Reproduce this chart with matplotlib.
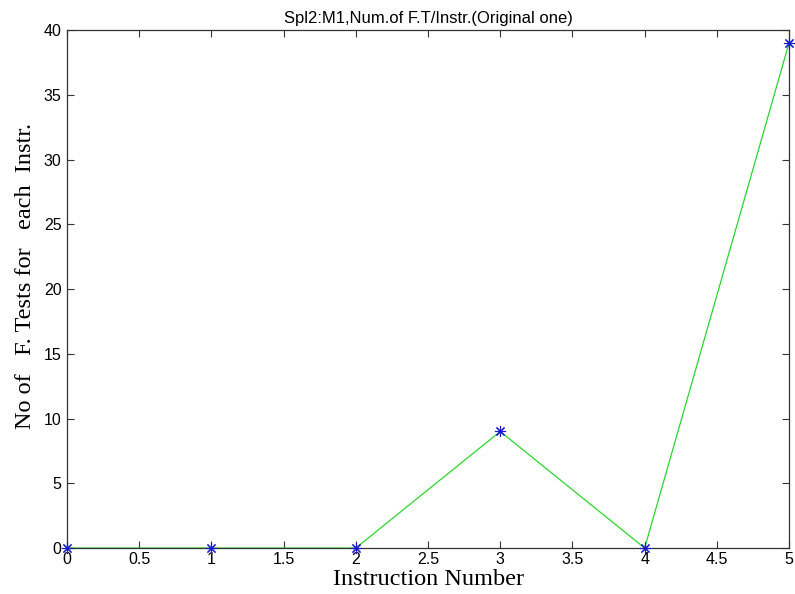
import matplotlib.pyplot as plt

# instruction index vs number of fault tests
instr = [0, 1, 2, 3, 4, 5]
n_tests = [0, 0, 0, 9, 0, 39]
xtick_vals = [0, 0.5, 1, 1.5, 2, 2.5, 3, 3.5, 4, 4.5, 5]
xtick_text = ['0', '0.5', '1', '1.5', '2', '2.5', '3', '3.5', '4', '4.5', '5']

fig = plt.figure(figsize=(7.95, 5.94), dpi=100)
ax = fig.add_axes([0.0843, 0.0774, 0.9082, 0.8721])

ax.plot(instr, n_tests, color='#2ad62a', lw=0.9, zorder=2)
ax.plot(instr, n_tests, ls='none', marker=(8, 2, 0), color='#1a1acc', ms=8,
        mew=0.8, zorder=3, clip_on=False)

ax.set_xlim(0, 5)
ax.set_ylim(0, 40)
ax.set_xticks(xtick_vals)
ax.set_xticklabels(xtick_text)
ax.set_yticks(range(0, 41, 5))

ax.tick_params(direction='in', length=5, width=0.8, top=True, right=True,
               labelsize=11.5, pad=3, colors='#333333')
ax.tick_params(axis='y', pad=4)
for lbl in ax.get_xticklabels() + ax.get_yticklabels():
    lbl.set_fontfamily('Liberation Sans')
    lbl.set_color('black')
for s in ax.spines.values():
    s.set_linewidth(0.9)
    s.set_color('#333333')

ax.set_title('Spl2:M1,Num.of F.T/Instr.(Original one)', fontsize=12,
             family='Liberation Sans', pad=5)
ax.set_xlabel('Instruction Number', family='Liberation Serif', fontsize=17.5)
ax.xaxis.set_label_coords(0.5, -0.041)
ax.set_ylabel('No of   F. Tests for   each  Instr.', family='Liberation Serif',
              fontsize=17.5)
ax.yaxis.set_label_coords(-0.043, 0.525)

fig.savefig('out.png', dpi=100)
